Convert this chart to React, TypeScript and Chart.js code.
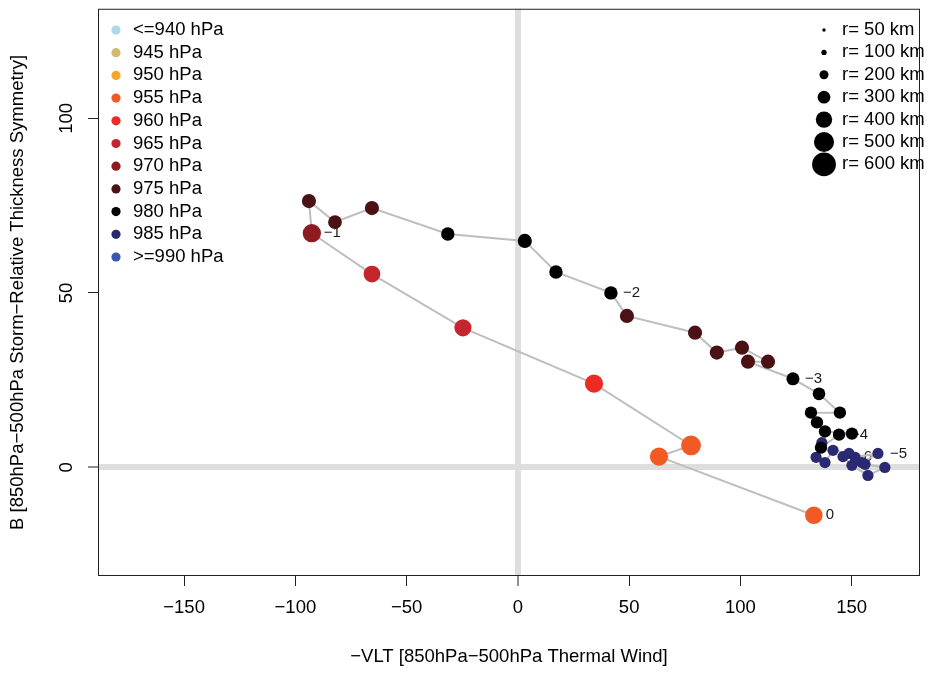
import React, { useEffect, useRef } from 'react';
import { Chart, registerables } from 'chart.js';

Chart.register(...registerables);

const FONT = '"Liberation Sans", Arial, Helvetica, sans-serif';

// -VLT (x) and B (y) along the storm track, chronological order
const vltValues = [
  146.1, 150.1, 157.3, 164.9, 156.0, 154.6, 161.8, 151.5, 148.8, 141.6,
  138.0, 134.0, 136.6, 136.2, 144.3, 150.1, 138.0, 134.4, 131.7, 144.7,
  135.3, 123.6, 103.4, 112.4, 100.7, 89.4, 79.6, 49.0, 41.8, 17.1,
  3.1, -31.5, -65.6, -82.2, -93.9, -92.6, -65.6, -24.7, 34.2, 77.8,
  63.4, 133.0,
];
const bValues = [
  3.1, 0.6, -2.3, 0.0, 0.9, 1.4, 4.0, 2.9, 4.0, 4.9,
  1.4, 2.9, 7.1, 5.7, 9.4, 9.7, 10.3, 12.9, 15.7, 15.7,
  21.1, 25.4, 30.3, 30.3, 34.3, 32.9, 38.6, 43.4, 50.0, 56.0,
  64.9, 66.9, 74.3, 70.3, 76.3, 67.1, 55.4, 40.0, 24.0, 6.3,
  3.1, -13.7,
];
// Minimum sea-level pressure (hPa) at each point
const pressureValues = [
  985, 985, 985, 985, 985, 985, 985, 985, 985, 985,
  985, 985, 985, 980, 980, 980, 980, 980, 980, 980,
  980, 980, 975, 975, 975, 975, 975, 975, 980, 980,
  980, 980, 975, 975, 975, 970, 965, 965, 960, 955,
  955, 955,
];
// Radius of gale-force winds (km) at each point
const radiusKm = [
  260, 260, 260, 260, 260, 260, 260, 260, 260, 260,
  260, 260, 260, 290, 290, 290, 290, 290, 290, 290,
  300, 310, 340, 340, 340, 340, 340, 340, 320, 320,
  340, 320, 340, 330, 340, 450, 410, 420, 450, 490,
  450, 430,
];
// Day labels relative to the reference time
const timeLabels = [
  '\u22126', '', '', '', '', '', '\u22125', '', '', '',
  '', '', '', '', '\u22124', '', '', '', '', '',
  '', '\u22123', '', '', '', '', '', '', '\u22122', '',
  '', '', '', '', '', '\u22121', '', '', '', '',
  '', '0',
];

const pressureLegend = [
  '<=940 hPa', '945 hPa', '950 hPa', '955 hPa', '960 hPa', '965 hPa',
  '970 hPa', '975 hPa', '980 hPa', '985 hPa', '>=990 hPa',
];
const pressureLevels = [940, 945, 950, 955, 960, 965, 970, 975, 980, 985, 990];
const pressureColors = [
  '#ADD8E6', '#D3B96C', '#FBA428', '#F15A24', '#EE2A24', '#C4262E',
  '#8E1B1F', '#4B1216', '#000000', '#2A2A72', '#3A56B0',
];
const radiusLegendKm = [50, 100, 200, 300, 400, 500, 600];

const xTicks = [-150, -100, -50, 0, 50, 100, 150];
const yTicks = [0, 50, 100];

const X_MIN = -188.7;
const X_MAX = 180.7;
const Y_MIN = -31.1;
const Y_MAX = 131.4;

function colorForPressure(p: number): string {
  let idx = 0;
  for (let i = 0; i < pressureLevels.length; i++) {
    if (p >= pressureLevels[i]) idx = i;
  }
  return pressureColors[idx];
}
function kmToPx(km: number): number {
  return 0.8 + km * 0.0185;
}
function fmt(v: number): string {
  return v < 0 ? '\u2212' + Math.abs(v) : String(v);
}

const decorPlugin = {
  id: 'decor',
  beforeDatasetsDraw(chart: any) {
    const { ctx, scales } = chart;
    const x = scales.x;
    const y = scales.y;
    ctx.save();
    ctx.font = `15px ${FONT}`;
    ctx.fillStyle = '#1a1a1a';
    ctx.textBaseline = 'middle';
    ctx.textAlign = 'left';
    timeLabels.forEach((t, i) => {
      if (!t) return;
      ctx.fillText(t, x.getPixelForValue(vltValues[i]) + 12, y.getPixelForValue(bValues[i]));
    });
    ctx.restore();
  },
  afterDraw(chart: any) {
    const { ctx, chartArea: a, scales } = chart;
    const y = scales.y;
    ctx.save();
    // frame
    ctx.strokeStyle = '#222';
    ctx.lineWidth = 1;
    ctx.strokeRect(a.left + 0.5, a.top + 0.5, a.right - a.left - 1, a.bottom - a.top - 1);

    ctx.fillStyle = '#000';
    ctx.font = `18.5px ${FONT}`;
    ctx.textAlign = 'center';
    ctx.textBaseline = 'middle';
    // y tick labels (rotated, as in R)
    yTicks.forEach((v) => {
      ctx.save();
      ctx.translate(66.5, y.getPixelForValue(v));
      ctx.rotate(-Math.PI / 2);
      ctx.fillText(fmt(v), 0, 0);
      ctx.restore();
    });
    // y axis title
    ctx.save();
    ctx.translate(18, (a.top + a.bottom) / 2);
    ctx.rotate(-Math.PI / 2);
    ctx.fillText('B [850hPa\u2212500hPa Storm\u2212Relative Thickness Symmetry]', 0, 0);
    ctx.restore();
    // x axis title
    ctx.fillText('\u2212VLT [850hPa\u2212500hPa Thermal Wind]', (a.left + a.right) / 2, 657);

    // pressure legend
    ctx.textAlign = 'left';
    pressureLegend.forEach((lab, i) => {
      const cy = 30 + i * 22.7;
      ctx.beginPath();
      ctx.fillStyle = pressureColors[i];
      ctx.arc(116, cy, 4.6, 0, Math.PI * 2);
      ctx.fill();
      ctx.fillStyle = '#000';
      ctx.fillText(lab, 133, cy);
    });
    // radius legend
    radiusLegendKm.forEach((km, i) => {
      const cy = 30 + i * 22.4;
      ctx.beginPath();
      ctx.fillStyle = '#000';
      ctx.arc(824, cy, kmToPx(km), 0, Math.PI * 2);
      ctx.fill();
      ctx.fillText(`r= ${km} km`, 842, cy);
    });
    ctx.restore();
  },
};

export default function App() {
  const ref = useRef<HTMLCanvasElement>(null);
  useEffect(() => {
    if (!ref.current) return;
    const colors = pressureValues.map(colorForPressure);
    const radii = radiusKm.map(kmToPx);
    const gridFor = () => ({
      color: (c: any) => (c.tick && c.tick.value === 0 ? '#DEDEDE' : 'rgba(0,0,0,0)'),
      lineWidth: (c: any) => (c.tick && c.tick.value === 0 ? 6 : 1),
      tickColor: '#222',
      tickWidth: 1,
      tickLength: 10,
      drawOnChartArea: true,
      drawTicks: true,
    });
    const chart = new Chart(ref.current, {
      type: 'scatter',
      data: {
        datasets: [
          {
            data: vltValues.map((v, i) => ({ x: v, y: bValues[i] })),
            showLine: true,
            borderColor: '#BEBEBE',
            borderWidth: 2,
            pointBackgroundColor: colors,
            pointBorderColor: colors,
            pointBorderWidth: 0,
            pointRadius: radii,
            pointHoverRadius: radii,
          } as any,
        ],
      },
      options: {
        animation: false,
        responsive: false,
        devicePixelRatio: 1,
        layout: { padding: { top: 7, right: 12, left: 0, bottom: 0 } },
        plugins: { legend: { display: false }, tooltip: { enabled: false } },
        events: [],
        scales: {
          x: {
            type: 'linear',
            min: X_MIN,
            max: X_MAX,
            afterBuildTicks: (s: any) => {
              s.ticks = xTicks.map((v) => ({ value: v }));
            },
            afterFit: (s: any) => {
              s.height = 99;
            },
            grid: gridFor() as any,
            border: { display: false },
            ticks: {
              autoSkip: false,
              maxRotation: 0,
              minRotation: 0,
              padding: 11,
              color: '#000',
              font: { family: FONT, size: 18.5 },
              callback: (v: any) => fmt(Number(v)),
            },
          },
          y: {
            type: 'linear',
            min: Y_MIN,
            max: Y_MAX,
            afterBuildTicks: (s: any) => {
              s.ticks = yTicks.map((v) => ({ value: v }));
            },
            afterFit: (s: any) => {
              s.width = 98;
            },
            grid: gridFor() as any,
            border: { display: false },
            ticks: { display: false },
          },
        },
      },
      plugins: [decorPlugin],
    });
    return () => chart.destroy();
  }, []);
  return (
    <div style={{ position: 'absolute', left: 0, top: 0, width: 932, height: 675, background: '#fff' }}>
      <canvas ref={ref} width={932} height={675} style={{ width: 932, height: 675 }} />
    </div>
  );
}
